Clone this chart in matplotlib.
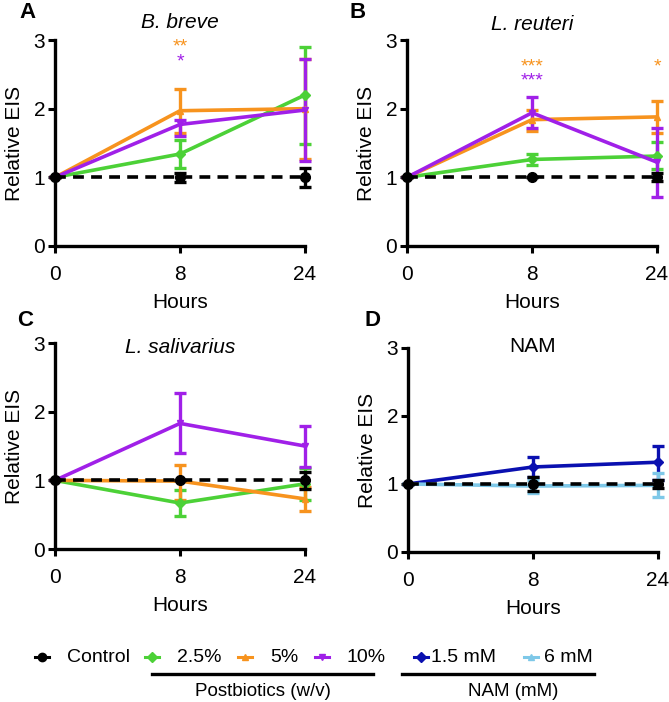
import numpy as np
import matplotlib
matplotlib.use("Agg")
import matplotlib.pyplot as plt
from matplotlib.lines import Line2D

plt.rcParams["font.family"] = ["Liberation Sans", "DejaVu Sans"]

HOURS = ["0", "8", "24"]

# colours / markers per series
COLORS = {"Control": "#000000", "2.5%": "#4cd137", "5%": "#f7931e", "10%": "#a020e8",
          "1.5 mM": "#0a10b0", "6 mM": "#7ec8e8"}
MARKERS = {"Control": "o", "2.5%": "D", "5%": "^", "10%": "v", "1.5 mM": "D", "6 mM": "^"}

# ---- data: mean, lower, upper per time point ----
breve_mean = {"2.5%": [1, 1.34, 2.20], "5%": [1, 1.97, 2.00], "10%": [1, 1.77, 1.98],
              "Control": [1, 1.0, 1.0]}
breve_lo = {"2.5%": [1, 1.13, 1.49], "5%": [1, 1.65, 1.26], "10%": [1, 1.60, 1.24],
            "Control": [1, 0.93, 0.86]}
breve_hi = {"2.5%": [1, 1.55, 2.90], "5%": [1, 2.28, 2.73], "10%": [1, 1.84, 2.72],
            "Control": [1, 1.07, 1.14]}

reuteri_mean = {"2.5%": [1, 1.26, 1.31], "5%": [1, 1.84, 1.88], "10%": [1, 1.94, 1.22],
                "Control": [1, 1.0, 1.0]}
reuteri_lo = {"2.5%": [1, 1.18, 1.12], "5%": [1, 1.67, 1.65], "10%": [1, 1.72, 0.72],
              "Control": [1, 1.0, 0.94]}
reuteri_hi = {"2.5%": [1, 1.34, 1.51], "5%": [1, 1.98, 2.11], "10%": [1, 2.17, 1.72],
              "Control": [1, 1.0, 1.06]}

saliv_mean = {"2.5%": [1, 0.67, 0.95], "5%": [1, 0.99, 0.73], "10%": [1, 1.83, 1.50],
              "Control": [1, 1.0, 1.0]}
saliv_lo = {"2.5%": [1, 0.48, 0.72], "5%": [1, 0.72, 0.56], "10%": [1, 1.40, 1.20],
            "Control": [1, 1.0, 0.88]}
saliv_hi = {"2.5%": [1, 0.86, 1.18], "5%": [1, 1.23, 0.90], "10%": [1, 2.27, 1.79],
            "Control": [1, 1.0, 1.12]}

nam_mean = {"1.5 mM": [1, 1.25, 1.32], "6 mM": [1, 0.97, 0.98], "Control": [1, 1.0, 1.0]}
nam_lo = {"1.5 mM": [1, 1.11, 1.06], "6 mM": [1, 0.87, 0.81], "Control": [1, 0.90, 0.94]}
nam_hi = {"1.5 mM": [1, 1.39, 1.56], "6 mM": [1, 1.06, 1.16], "Control": [1, 1.10, 1.06]}

# significance stars: (x index, y, text, series)
breve_stars = [(1, 2.90, "**", "5%"), (1, 2.68, "*", "10%")]
reuteri_stars = [(1, 2.61, "***", "5%"), (1, 2.40, "***", "10%"), (2, 2.61, "*", "5%")]

W, H = 669.0, 702.0

# letter, title, italic, data..., axes rect, title y (axes frac), letter pos (px)
PANELS = [
    ("A", "B. breve", True, breve_mean, breve_lo, breve_hi, breve_stars,
     [0.0822, 0.6496, 0.3737, 0.2934], 1.087, (27, 13)),
    ("B", "L. reuteri", True, reuteri_mean, reuteri_lo, reuteri_hi, reuteri_stars,
     [0.6084, 0.6496, 0.3737, 0.2934], 1.073, (358, 13)),
    ("C", "L. salivarius", True, saliv_mean, saliv_lo, saliv_hi, [],
     [0.0822, 0.2179, 0.3737, 0.2934], 0.98, (25, 320)),
    ("D", "NAM", False, nam_mean, nam_lo, nam_hi, [],
     [0.6099, 0.2137, 0.3737, 0.2906], 1.005, (372, 320)),
]

fig = plt.figure(figsize=(6.69, 7.02), dpi=100)
x = np.arange(len(HOURS))

for letter, title, italic, mean, lo, hi, stars, rect, ty, (lx, lyp) in PANELS:
    ax = fig.add_axes(rect)
    for name in mean:
        m = np.array(mean[name]); l = np.array(lo[name]); h = np.array(hi[name])
        ctrl = name == "Control"
        ax.errorbar(x, m, yerr=[m - l, h - m], color=COLORS[name], lw=2.6,
                    ls=(0, (3, 2)) if ctrl else "-",
                    marker=MARKERS[name], ms=7 if ctrl else 5, capsize=4, capthick=2.4,
                    elinewidth=2.4, zorder=5 if ctrl else 3, clip_on=False)
    for xi, yi, s, name in stars:
        ax.text(x[xi], yi, s, color=COLORS[name], ha="center", va="center", fontsize=14)
    ax.set_xlim(0, 2); ax.set_ylim(0, 3)
    ax.set_xticks(x); ax.set_xticklabels(HOURS)
    ax.set_yticks([0, 1, 2, 3])
    for s in ("top", "right"):
        ax.spines[s].set_visible(False)
    for s in ("left", "bottom"):
        ax.spines[s].set_linewidth(2.4)
    ax.tick_params(width=2.2, length=5, labelsize=15)
    ax.tick_params(axis="x", pad=9)
    ax.tick_params(axis="y", pad=2)
    ax.set_xlabel("Hours", fontsize=15, labelpad=6)
    ax.set_ylabel("Relative EIS", fontsize=15, labelpad=7)
    ax.text(0.5, ty, title, transform=ax.transAxes, ha="center", va="center",
            fontsize=15, style="italic" if italic else "normal")
    fig.text(lx / W, 1 - lyp / H, letter, fontsize=16, fontweight="bold",
             ha="center", va="center")

# ---- legend drawn by hand ----
LEG_NAMES = ["Control", "2.5%", "5%", "10%", "1.5 mM", "6 mM"]
LEG_MX = [42, 152, 245, 322, 421, 531]
LEG_TX = [67, 177, 270, 347, 431, 544]
ly = 1 - 657 / H
for name, mx, tx in zip(LEG_NAMES, LEG_MX, LEG_TX):
    fig.add_artist(Line2D([(mx - 7) / W, (mx + 7) / W], [ly, ly], color=COLORS[name], lw=2.2))
    fig.add_artist(Line2D([mx / W], [ly], color=COLORS[name], marker=MARKERS[name],
                          ms=6 if name == "Control" else 5, lw=0))
    fig.text(tx / W, ly, name, fontsize=14, ha="left", va="center")

gy = 1 - 674 / H
fig.add_artist(Line2D([152 / W, 373 / W], [gy, gy], color="black", lw=2.4))
fig.add_artist(Line2D([402 / W, 594 / W], [gy, gy], color="black", lw=2.4))
fig.text(263 / W, 1 - 691 / H, "Postbiotics (w/v)", fontsize=13.5, ha="center", va="center")
fig.text(513 / W, 1 - 691 / H, "NAM (mM)", fontsize=13.5, ha="center", va="center")

fig.savefig("out.png", dpi=100, facecolor="white")
